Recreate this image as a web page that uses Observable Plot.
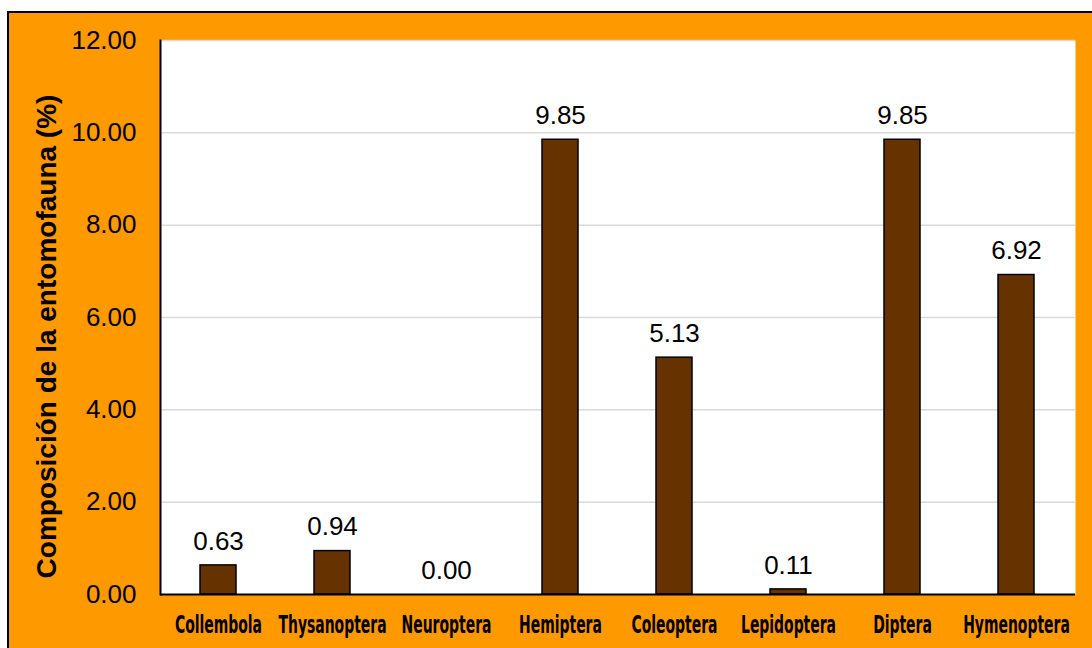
<!DOCTYPE html>
<html>
<head>
<meta charset="utf-8">
<script src="https://cdn.jsdelivr.net/npm/d3@7"></script>
<script src="https://cdn.jsdelivr.net/npm/@observablehq/plot@0.6"></script>
<style>
  html, body { margin: 0; padding: 0; background: #ffffff; }
  #wrap { position: relative; width: 1092px; height: 648px; overflow: hidden; }
  #panel {
    position: absolute; left: 7px; top: 11px; width: 1100px; height: 660px;
    background: #ff9900; border: 2px solid #000; box-sizing: border-box;
  }
  #chart { position: absolute; left: 0; top: 0; }
  #chart svg { background: transparent; }
</style>
</head>
<body>
<div id="wrap">
  <div id="panel"></div>
  <div id="chart"></div>
</div>
<script>
// Orders of insects and their share of the collected entomofauna (%)
const orders = ["Collembola", "Thysanoptera", "Neuroptera", "Hemiptera", "Coleoptera", "Lepidoptera", "Diptera", "Hymenoptera"];
const composition = [0.63, 0.94, 0.00, 9.85, 5.13, 0.11, 9.85, 6.92];
const yTicks = [0, 2, 4, 6, 8, 10, 12];
const yTitle = "Composición de la entomofauna (%)";

const rows = orders.map((order, i) => ({order, value: composition[i]}));

const chart = Plot.plot({
  width: 1092,
  height: 648,
  marginLeft: 160,
  marginRight: 17,
  marginTop: 40,
  marginBottom: 54,
  style: {fontFamily: "'Liberation Sans', Arial, sans-serif", fontSize: "26px", background: "transparent", color: "#000"},
  x: {domain: orders, paddingInner: 0.68, paddingOuter: 0.34, label: null},
  y: {domain: [0, 12], label: null},
  marks: [
    Plot.frame({fill: "#ffffff", stroke: null}),
    Plot.ruleY(yTicks.filter(d => d > 0), {stroke: "#d9d9d9", strokeWidth: 1.5}),
    Plot.barY(rows, {x: "order", y: "value", fill: "#663300", stroke: "#000", strokeWidth: 1.5}),
    Plot.text(rows, {x: "order", y: "value", text: d => d.value.toFixed(2), dy: -24, fontSize: 26, fill: "#000"}),
    Plot.axisY({ticks: yTicks, tickFormat: d => d.toFixed(2), tickSize: 0, tickPadding: 24, fontSize: 26, label: null}),
    Plot.axisX({tickSize: 0, tickPadding: 38, fontFamily: "'DejaVu Sans Condensed', 'DejaVu Sans', sans-serif", fontWeight: "bold", fontSize: 15.5, label: null}),
    Plot.text([yTitle], {frameAnchor: "left", dx: -113, dy: 19, rotate: -90, textAnchor: "middle", fontSize: 28, fontWeight: "bold", fill: "#000"}),
    Plot.frame({anchor: "left", stroke: "#000", strokeWidth: 2}),
    Plot.ruleY([0], {stroke: "#000", strokeWidth: 2})
  ]
});

// Category labels use a tall, narrow lettering: stretch them vertically
// and sit their baseline at the translated tick position.
d3.select(chart).selectAll("g[aria-label='x-axis tick label'] text").each(function () {
  const t = d3.select(this);
  t.attr("y", 0).attr("dy", null)
   .attr("transform", (t.attr("transform") || "") + " scale(1,1.55)");
});

document.getElementById("chart").appendChild(chart);
</script>
</body>
</html>
